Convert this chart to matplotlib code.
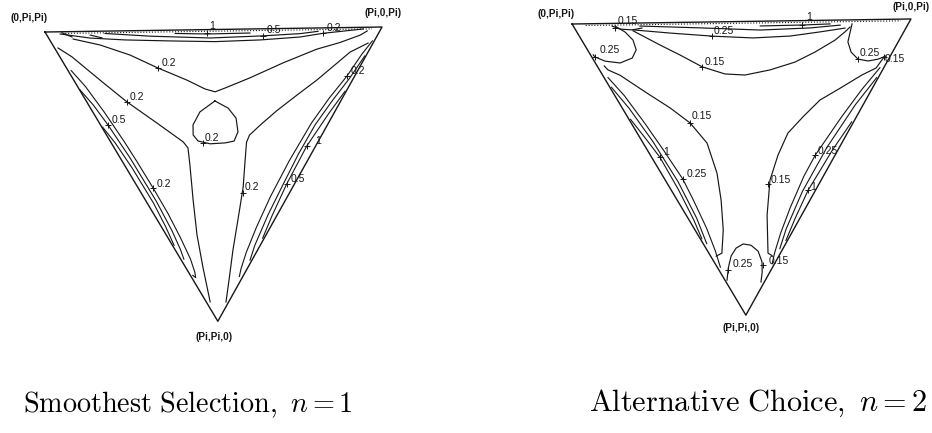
import numpy as np
import matplotlib.pyplot as plt
from matplotlib.transforms import Affine2D

plt.rcParams['mathtext.fontset'] = 'cm'

# triangle of side 100; x along the top edge, y measured downwards from it
H = 86.6
corners = [(0, 0), (100, 0), (50, H)]
corner_names = ['(0,Pi,Pi)', '(Pi,0,Pi)', '(Pi,Pi,0)']

# ---------------- Smoothest Selection, n = 1 ----------------
ss_v = [(8.3, 2.2), (16.3, 4.1), (25.1, 7.2), (33.4, 11.2), (41.9, 14.9), (47.2, 17.6),
        (50.2, 18.5), (53.2, 17.4), (60.6, 14.5), (70.5, 10.2), (80.5, 6.3), (87.5, 4.4),
        (93.5, 2.3), (95.6, 1.1)]
ss_loop = [(50.1, 21.2), (45.6, 24.4), (43.5, 28.2), (43.5, 31.2), (44.9, 33.0), (48.5, 33.9),
           (52.9, 33.7), (55.6, 33.2), (56.8, 30.5), (56.3, 26.4), (54.0, 23.4), (50.1, 21.2)]
ss_left = [(3.8, 4.8), (7.9, 7.5), (16.1, 14.5), (24.0, 21.1), (32.8, 27.5), (40.5, 33.2),
           (41.9, 35.0), (42.4, 40.1), (43.2, 50.5), (44.2, 60.9), (45.8, 70.4), (47.8, 80.8)]
ss_right = [(95.8, 4.7), (90.4, 7.3), (86.5, 10.5), (80.5, 15.4), (74.5, 19.8), (68.5, 24.3),
            (63.5, 28.5), (60.2, 31.5), (59.3, 33.6), (58.8, 38.9), (58.1, 46.9), (56.4, 56.6),
            (54.8, 65.5), (53.5, 74.4), (52.5, 80.9)]
ss_top_02 = [(4.5, 0.65), (13.4, 2.0), (23.7, 2.7), (37.1, 3.2), (50.4, 3.6), (63.8, 3.3),
             (75.7, 2.6), (82.5, 1.6), (89.0, 1.0), (94.4, 0.5)]
ss_top_05 = [(17.8, 0.7), (31.2, 1.7), (49.0, 2.5), (64.7, 2.1), (75.7, 1.6), (81.0, 1.0)]
ss_top_1 = [(38.6, 1.0), (48.1, 1.3), (60.8, 1.2)]
ss_hooks = [[(5.0, 0.3), (8.0, 1.6)], [(13.4, 1.1), (16.9, 2.0)]]
ss_dotted = [[(6, 0.5), (97, 0.5)]]

# contours along the side edges: (fraction along edge, distance inside)
ss_lband = [
    [(0.138, 0.8), (0.2, 2.0), (0.294, 2.9), (0.40, 3.5), (0.47, 3.7), (0.562, 3.8), (0.65, 3.7),
     (0.73, 3.2), (0.8, 2.5), (0.84, 1.6), (0.855, 1.0), (0.845, 0.6)],
    [(0.2, 0.1), (0.26, 1.2), (0.333, 1.9), (0.45, 2.5), (0.6, 2.6), (0.7, 2.1), (0.76, 1.4),
     (0.79, 0.8)],
    [(0.33, 0.2), (0.39, 1.0), (0.48, 1.5), (0.6, 1.6), (0.68, 1.1), (0.74, 0.4)],
]
ss_rband = [
    [(0.05, 0.5), (0.1, 1.3), (0.178, 2.0), (0.26, 3.4), (0.35, 4.4), (0.48, 4.7), (0.6, 4.4),
     (0.7, 3.6), (0.78, 2.6), (0.83, 1.6), (0.853, 0.9)],
    [(0.1, 0.3), (0.18, 1.0), (0.26, 2.2), (0.35, 3.2), (0.45, 3.3), (0.546, 2.9), (0.65, 2.4),
     (0.75, 1.4), (0.795, 0.5)],
    [(0.22, 0.3), (0.3, 1.3), (0.4185, 2.3), (0.546, 2.0), (0.65, 1.2), (0.72, 0.4)],
]
ss_labels = [
    ('0.2', (33.4, 11.2), (36.7, 9.6)),
    ('0.2', (24.0, 21.1), (27.0, 19.7)),
    ('0.5', (18.3, 27.9), (21.6, 26.4)),
    ('0.2', (31.4, 46.8), (34.7, 45.5)),
    ('0.2', (46.4, 33.6), (49.1, 32.2)),
    ('0.2', (58.0, 48.6), (60.6, 46.9)),
    ('1', (48.1, 1.0), (49.6, -0.9)),
    ('0.5', (64.7, 2.1), (68.0, 0.4)),
    ('0.2', (82.5, 1.5), (85.8, 0.2)),
    ('0.2', (89.4, 14.4), (92.7, 12.8)),
    ('1', (77.1, 35.1), (80.4, 33.5)),
    ('0.5', (71.0, 46.3), (74.3, 44.7)),
]
ss_name_pos = [(-4.8, -4.1), (100.4, -4.2), (48.8, 91.2)]

# ---------------- Alternative Choice, n = 2 ----------------
ac_u = [(18.0, 2.3), (21.5, 4.2), (25.9, 6.6), (31.7, 9.6), (38.2, 13.2), (44.9, 15.4),
        (50.8, 15.8), (58.2, 14.4), (65.6, 12.2), (71.6, 9.3), (77.5, 5.9), (80.5, 3.5), (82.0, 2.1)]
ac_top_025 = [(18.0, 2.0), (28.9, 3.1), (41.5, 4.2), (53.3, 4.9), (64.3, 4.5), (73.2, 3.4),
              (80.5, 2.4)]
ac_top_mid = [(20.0, 0.9), (37.8, 1.7), (55.5, 2.6), (70.2, 2.2), (79.1, 1.5)]
ac_top_1 = [(55.5, 1.4), (68.1, 1.3), (76.1, 1.1)]
ac_arc_015 = [(11.8, 0.8), (14.1, 1.7), (17.7, 2.0), (20.6, 1.5)]
ac_corner_tl = [(12.7, 0.8), (15.6, 2.6), (17.9, 5.0), (18.8, 7.9), (17.6, 10.3), (14.0, 11.7),
                (9.6, 11.1), (6.6, 9.8), (6.1, 9.2)]
ac_corner_tr = [(82.6, 1.2), (82.0, 3.6), (81.3, 6.5), (82.2, 9.5), (84.2, 11.6), (87.2, 12.2),
                (90.1, 11.7), (92.5, 10.8)]
ac_lobe_l = [(9.3, 12.5), (10.4, 13.7), (13.9, 15.3), (21.8, 20.7), (28.6, 25.2), (34.4, 29.7),
             (39.3, 35.7), (42.1, 44.6), (43.2, 52.6), (43.7, 61.4), (43.2, 68.2), (41.5, 69.1)]
ac_lobe_r = [(91.9, 11.1), (89.5, 14.3), (85.3, 16.3), (78.8, 20.1), (72.8, 23.5), (67.7, 28.4),
             (63.2, 33.1), (60.2, 39.5), (57.7, 46.9), (56.7, 57.2), (56.8, 68.4), (58.0, 69.2)]
ac_arch = [(44.6, 76.2), (45.0, 72.7), (45.9, 69.1), (47.4, 66.8), (49.5, 65.6), (51.8, 66.0),
           (53.9, 67.8), (55.0, 71.0), (55.0, 74.0), (54.6, 76.9)]
ac_dotted = [[(4, 0.5), (97, 0.5)]]

ac_lband = [
    [(0.19, 1.0), (0.26, 2.4), (0.36, 3.4), (0.46, 4.1), (0.56, 4.6), (0.63, 4.1), (0.72, 3.2),
     (0.79, 2.0), (0.84, 0.8)],
    [(0.22, 0.4), (0.3, 1.7), (0.42, 2.7), (0.56, 3.0), (0.68, 2.2), (0.76, 0.9)],
    [(0.33, 0.4), (0.4, 1.3), (0.47, 2.1), (0.58, 1.9), (0.68, 1.2), (0.74, 0.4)],
]
ac_rband = [
    [(0.17, 1.0), (0.25, 2.5), (0.35, 3.8), (0.488, 5.1), (0.56, 5.0), (0.66, 4.0), (0.74, 2.8),
     (0.8, 1.5), (0.83, 0.6)],
    [(0.2, 0.4), (0.3, 2.0), (0.45, 3.2), (0.6, 3.2), (0.72, 2.0), (0.78, 0.8)],
    [(0.35, 0.5), (0.45, 1.4), (0.589, 1.9), (0.68, 1.2), (0.75, 0.4)],
]
ac_labels = [
    ('0.15', (12.7, 1.4), (16.5, -0.5)),
    ('0.25', (41.2, 4.2), (44.8, 2.6)),
    ('1', (67.8, 1.3), (69.9, -0.9)),
    ('0.25', (6.6, 9.8), (11.1, 7.8)),
    ('0.25', (84.2, 11.6), (87.8, 9.9)),
    ('0.15', (91.9, 11.1), (95.1, 11.6)),
    ('0.15', (38.2, 13.2), (42.0, 11.7)),
    ('0.15', (34.4, 29.7), (37.9, 27.8)),
    ('1', (25.4, 39.6), (27.2, 38.2)),
    ('0.25', (32.1, 46.2), (36.2, 44.8)),
    ('0.15', (57.1, 48.1), (61.0, 46.9)),
    ('0.25', (71.1, 39.7), (75.0, 38.6)),
    ('1', (68.9, 50.0), (70.4, 49.1)),
    ('0.25', (45.0, 73.2), (49.4, 71.5)),
    ('0.15', (55.3, 71.9), (60.0, 70.7)),
]
ac_name_pos = [(-4.7, -3.0), (100.1, -3.4), (48.5, 90.4)]

ink = '#161616'


def along_edge(p0, p1, pts):
    p0 = np.array(p0, float)
    p1 = np.array(p1, float)
    u = (p1 - p0) / np.linalg.norm(p1 - p0)
    n = np.array([-u[1], u[0]])
    if np.dot(np.array([50, H / 3]) - p0, n) < 0:
        n = -n
    t, d = np.array(pts).T
    xy = p0 + np.outer(t, p1 - p0) + np.outer(d, n)
    return xy[:, 0], xy[:, 1]


def draw(ax, curves, lband, rband, dotted, labels, name_pos, xlim, ylim):
    ax.set_xlim(*xlim)
    ax.set_ylim(*ylim)
    ax.axis('off')
    tr = Affine2D().rotate_deg(-0.85) + ax.transData
    tx, ty = zip(*(corners + corners[:1]))
    ax.plot(tx, ty, color=ink, lw=1.0, transform=tr)
    for c in curves:
        x, y = zip(*c)
        ax.plot(x, y, color=ink, lw=0.85, transform=tr)
    for pts in lband:
        x, y = along_edge(corners[0], corners[2], pts)
        ax.plot(x, y, color=ink, lw=0.8, transform=tr)
    for pts in rband:
        x, y = along_edge(corners[1], corners[2], pts)
        ax.plot(x, y, color=ink, lw=0.8, transform=tr)
    for seg in dotted:
        x, y = zip(*seg)
        ax.plot(x, y, color=ink, lw=0.8, ls=(0, (1, 1.6)), transform=tr)
    for s, tick, pos in labels:
        ax.plot(*tick, marker='+', ms=4.5, mew=0.7, color=ink, transform=tr)
        ax.text(*pos, s, ha='center', va='center', fontsize=7.5, color=ink,
                family='Liberation Sans', transform=tr)
    for name, p in zip(corner_names, name_pos):
        ax.text(*p, name, ha='center', va='center', fontsize=7.2, fontweight='bold',
                color=ink, family='Liberation Sans', transform=tr)


fig = plt.figure(figsize=(9.32, 4.33), dpi=100)
ax1 = fig.add_axes([0, 0, 0.5, 1])
ax2 = fig.add_axes([0.5, 0, 0.5, 1])

draw(ax1, [ss_v, ss_loop, ss_left, ss_right, ss_top_02, ss_top_05, ss_top_1] + ss_hooks,
     ss_lband, ss_rband, ss_dotted, ss_labels, ss_name_pos, (-13.35, 124.9), (119.0, -9.5))
draw(ax2, [ac_u, ac_top_025, ac_top_mid, ac_top_1, ac_arc_015, ac_corner_tl, ac_corner_tr,
           ac_lobe_l, ac_lobe_r, ac_arch],
     ac_lband, ac_rband, ac_dotted, ac_labels, ac_name_pos, (-31.3, 106.2), (120.6, -7.08))

fig.text(188 / 932, 1 - 405 / 433, r'$\mathrm{Smoothest\ Selection},\ n = 1$',
         ha='center', va='center', fontsize=20.3)
fig.text(758 / 932, 1 - 403 / 433, r'$\mathrm{Alternative\ Choice},\ n = 2$',
         ha='center', va='center', fontsize=21.8)

fig.savefig('out.png', dpi=100, facecolor='white')
